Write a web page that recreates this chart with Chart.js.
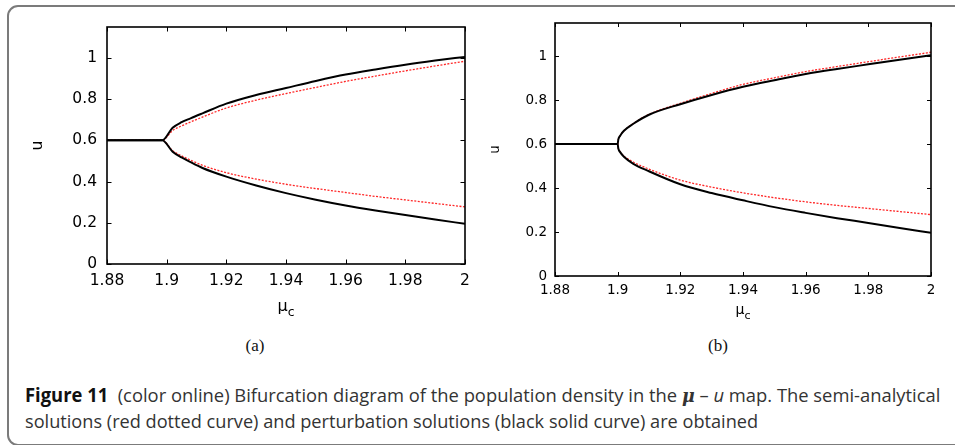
<!DOCTYPE html>
<html>
<head>
<meta charset="utf-8">
<script src="https://cdn.jsdelivr.net/npm/chart.js@4"></script>
<style>
  html, body { margin: 0; padding: 0; background: #fff; }
  body { width: 955px; height: 445px; position: relative; overflow: hidden; }
  #frame { position: absolute; left: 7px; top: 5px; width: 1000px; height: 437px; border: 2px solid #7b7b7b; border-radius: 11px; }
  canvas { position: absolute; top: 0; }
  #ca { left: 0; }
  #cb { left: 480px; }
  .sub { position: absolute; top: 337px; line-height: 17px; font-family: "Liberation Serif", serif; font-size: 17px; color: #111; transform: translateX(-50%); }
  .cap { position: absolute; left: 25px; line-height: 19px; font-family: "Open Sans", sans-serif; font-size: 19px; color: #333; white-space: nowrap; transform-origin: 0 0; }
  .cap b { color: #111; }
  .mu { font-family: "DejaVu Serif", serif; font-weight: bold; font-style: italic; font-size: 18px; }
</style>
</head>
<body>
<div id="frame"></div>
<canvas id="ca" width="480" height="330"></canvas>
<canvas id="cb" width="475" height="330"></canvas>
<div class="sub" style="left:255px">(a)</div>
<div class="sub" style="left:718px">(b)</div>
<div class="cap" id="cap1" style="top:386px"><b>Figure 11</b>&nbsp; (color online) Bifurcation diagram of the population density in the <span class="mu">μ</span> – <i>u</i> map. The semi-analytical</div>
<div class="cap" id="cap2" style="top:412px">solutions (red dotted curve) and perturbation solutions (black solid curve) are obtained</div>

<script>
// Axis ticks (same on both panels)
const xTicks = [1.88, 1.9, 1.92, 1.94, 1.96, 1.98, 2];
const xTickLabels = ["1.88", "1.9", "1.92", "1.94", "1.96", "1.98", "2"];
const yTicks = [0, 0.2, 0.4, 0.6, 0.8, 1];
const yTickLabels = ["0", "0.2", "0.4", "0.6", "0.8", "1"];

// Panel (a)
const aMu = [1.88, 1.89, 1.8985, 1.902, 1.905, 1.908, 1.912, 1.92, 1.93, 1.94, 1.95, 1.96, 1.97, 1.98, 1.99, 2.0];
const aUpperBlack = [0.6, 0.6, 0.6, 0.661, 0.688, 0.707, 0.731, 0.778, 0.820, 0.854, 0.888, 0.919, 0.944, 0.967, 0.987, 1.005];
const aLowerBlack = [0.6, 0.6, 0.6, 0.545, 0.517, 0.494, 0.466, 0.424, 0.381, 0.344, 0.312, 0.284, 0.260, 0.238, 0.216, 0.195];
const aUpperRed = [0.6, 0.6, 0.6, 0.648, 0.670, 0.689, 0.713, 0.757, 0.795, 0.827, 0.857, 0.886, 0.912, 0.937, 0.961, 0.984];
const aLowerRed = [0.6, 0.6, 0.6, 0.550, 0.525, 0.504, 0.479, 0.443, 0.412, 0.387, 0.366, 0.347, 0.328, 0.311, 0.294, 0.277];

// Panel (b)
const bMu = [1.88, 1.89, 1.9, 1.9002, 1.9008, 1.902, 1.905, 1.91, 1.92, 1.93, 1.94, 1.95, 1.96, 1.97, 1.98, 1.99, 2.0];
const bUpperBlack = [0.6, 0.6, 0.6, 0.62, 0.638, 0.66, 0.692, 0.733, 0.781, 0.823, 0.860, 0.890, 0.918, 0.941, 0.962, 0.983, 1.003];
const bLowerBlack = [0.6, 0.6, 0.6, 0.58, 0.563, 0.542, 0.51, 0.476, 0.417, 0.377, 0.344, 0.313, 0.287, 0.263, 0.241, 0.218, 0.196];
const bUpperRed = [0.6, 0.6, 0.6, 0.62, 0.638, 0.66, 0.693, 0.735, 0.785, 0.830, 0.871, 0.901, 0.929, 0.952, 0.974, 0.996, 1.017];
const bLowerRed = [0.6, 0.6, 0.6, 0.58, 0.564, 0.545, 0.518, 0.486, 0.436, 0.404, 0.378, 0.356, 0.337, 0.321, 0.307, 0.293, 0.279];

// Box, inward mirrored ticks and the mu_c axis title (gnuplot look)
const framePlugin = {
  id: "frame",
  afterDraw(chart, args, o) {
    const { ctx, chartArea: a } = chart;
    const x = chart.scales.x, y = chart.scales.y;
    ctx.save();
    ctx.strokeStyle = "#000";
    ctx.lineWidth = 1;
    ctx.beginPath();
    xTicks.forEach(v => {
      const px = Math.round(x.getPixelForValue(v)) + 0.5;
      ctx.moveTo(px, a.bottom); ctx.lineTo(px, a.bottom - o.tick);
      ctx.moveTo(px, a.top); ctx.lineTo(px, a.top + o.tick);
    });
    yTicks.forEach(v => {
      const py = Math.round(y.getPixelForValue(v)) + 0.5;
      ctx.moveTo(a.left, py); ctx.lineTo(a.left + o.tick, py);
      ctx.moveTo(a.right, py); ctx.lineTo(a.right - o.tick, py);
    });
    ctx.stroke();
    ctx.lineWidth = 1.6;
    ctx.strokeRect(a.left, a.top, a.right - a.left, a.bottom - a.top);

    // x title: mu with subscript c
    ctx.fillStyle = "#000";
    ctx.textBaseline = "alphabetic";
    ctx.textAlign = "left";
    ctx.font = o.size + "px 'DejaVu Sans'";
    const wm = ctx.measureText("μ").width;
    ctx.font = o.subSize + "px 'DejaVu Sans'";
    const wc = ctx.measureText("c").width;
    const x0 = (a.left + a.right) / 2 - (wm + wc) / 2;
    ctx.font = o.size + "px 'DejaVu Sans'";
    ctx.fillText("μ", x0, o.titleY);
    ctx.font = o.subSize + "px 'DejaVu Sans'";
    ctx.fillText("c", x0 + wm, o.titleY + o.subDrop);
    ctx.restore();
  }
};

function points(mu, vals) {
  return mu.map((m, i) => ({ x: m, y: vals[i] }));
}

function makePanel(id, mu, upB, loB, upR, loR, look) {
  const black = { borderColor: "#000", borderWidth: 2, showLine: true, pointRadius: 0, cubicInterpolationMode: "monotone" };
  const red = { borderColor: "rgba(255,0,0,0.85)", borderWidth: 1.3, borderDash: [2, 1.5], showLine: true, pointRadius: 0, cubicInterpolationMode: "monotone" };
  const font = { family: "DejaVu Sans", size: look.font };

  return new Chart(document.getElementById(id), {
    type: "scatter",
    data: {
      datasets: [
        { label: "upper perturbation", data: points(mu, upB), ...black },
        { label: "lower perturbation", data: points(mu, loB), ...black },
        { label: "upper semi-analytical", data: points(mu, upR), ...red },
        { label: "lower semi-analytical", data: points(mu, loR), ...red }
      ]
    },
    options: {
      responsive: false,
      animation: false,
      layout: { padding: { left: 0, top: look.top, right: look.right, bottom: 0 } },
      plugins: {
        legend: { display: false },
        tooltip: { enabled: false },
        frame: look.frame
      },
      scales: {
        x: {
          type: "linear",
          min: 1.88,
          max: 2,
          afterBuildTicks: s => { s.ticks = xTicks.map(v => ({ value: v })); },
          afterFit: s => { s.height = look.xHeight; },
          grid: { display: false, drawTicks: false },
          border: { display: false },
          ticks: { color: "#000", font: font, padding: look.xPad, maxRotation: 0, autoSkip: false,
                   callback: (v, i) => xTickLabels[i] }
        },
        y: {
          type: "linear",
          min: 0,
          max: 1.15,
          afterBuildTicks: s => { s.ticks = yTicks.map(v => ({ value: v })); },
          afterFit: s => { s.width = look.yWidth; },
          grid: { display: false, drawTicks: false },
          border: { display: false },
          ticks: { color: "#000", font: font, padding: look.yPad,
                   callback: (v, i) => yTickLabels[i] },
          title: { display: true, text: "u", color: "#000", font: font, padding: { top: look.uPad } }
        }
      }
    },
    plugins: [framePlugin]
  });
}

makePanel("ca", aMu, aUpperBlack, aLowerBlack, aUpperRed, aLowerRed, {
  top: 27, right: 15, yWidth: 107, xHeight: 66, font: 15.5, xPad: 8, yPad: 10, uPad: 29,
  frame: { tick: 4.5, size: 16, subSize: 12.5, titleY: 311, subDrop: 5 }
});

makePanel("cb", bMu, bUpperBlack, bLowerBlack, bUpperRed, bLowerRed, {
  top: 23, right: 24, yWidth: 75, xHeight: 54, font: 13.5, xPad: 6.5, yPad: 8, uPad: 7,
  frame: { tick: 4, size: 14, subSize: 11, titleY: 314, subDrop: 5 }
});

// squeeze the caption lines to the width of the original typesetting
function fitLine(id, target) {
  const el = document.getElementById(id);
  const w = el.offsetWidth;
  el.style.transform = "scaleX(" + (target / w) + ")";
}
fitLine("cap1", 915);
fitLine("cap2", 733);
</script>
</body>
</html>
